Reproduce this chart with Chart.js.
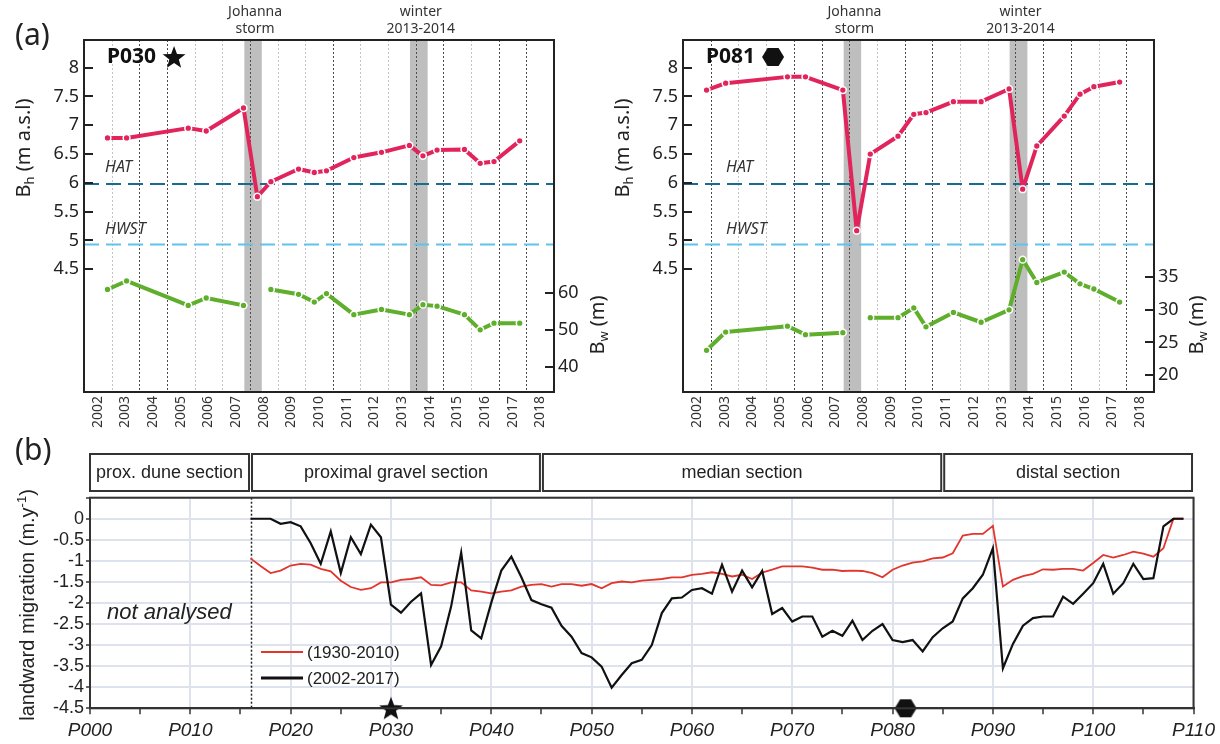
<!DOCTYPE html>
<html lang="en">
<head>
<meta charset="UTF-8">
<title>Barrier height, width and landward migration</title>
<script src="https://cdn.jsdelivr.net/npm/chart.js"></script>
<style>
    body { margin: 0; background: #fff; }
    .wrap { position: relative; width: 1220px; height: 744px; overflow: hidden; }
    canvas { position: absolute; }
    #chartP030 { left: 0; top: 0; }
    #chartP081 { left: 599px; top: 0; }
    #chartMigration { left: 0; top: 432px; }
</style>
</head>
<body>
<div class="wrap">
    <canvas id="chartP030" width="610" height="432"></canvas>
    <canvas id="chartP081" width="611" height="432"></canvas>
    <canvas id="chartMigration" width="1220" height="312"></canvas>
</div>
<script>
// ---- panel (a): survey dates (decimal years) and barrier height / width
const surveyDates = [2002.85, 2003.54, 2005.77, 2006.42, 2007.77, 2008.27, 2008.76, 2009.76, 2010.33, 2010.77,
                     2011.76, 2012.76, 2013.77, 2014.26, 2014.77, 2015.76, 2016.33, 2016.83, 2017.76];
const p030Height = [6.78, 6.78, 6.95, 6.90, 7.30, 5.76, 6.02, 6.24, 6.18, 6.21, 6.44, 6.53, 6.65, 6.47, 6.57, 6.58, 6.34, 6.37, 6.73];
const p030Width  = [60.9, 63.2, 56.6, 58.6, 56.6, null, 60.9, 59.6, 57.5, 59.8, 54.1, 55.5, 54.1, 56.8, 56.4, 54.1, 50.0, 51.8, 51.8];
const p081Height = [7.61, 7.73, 7.84, 7.84, 7.61, 5.17, 6.50, 6.81, 7.19, 7.22, 7.41, 7.41, 7.63, 5.89, 6.64, 7.16, 7.54, 7.67, 7.75];
const p081Width  = [23.8, 26.6, 27.5, 26.2, 26.5, null, 28.8, 28.8, 30.3, 27.4, 29.6, 28.1, 30.0, 37.7, 34.2, 35.8, 34.0, 33.2, 31.2];
const hatLevel = 5.98;
const hwstLevel = 4.93;
const eventBands = [[2007.80, 2008.43], [2013.79, 2014.43]];
const eventLabels = [['Johanna', 'storm'], ['winter', '2013-2014']];
const yearLabels = [2002, 2003, 2004, 2005, 2006, 2007, 2008, 2009, 2010, 2011, 2012, 2013, 2014, 2015, 2016, 2017, 2018];
const heightTicks = [4.5, 5, 5.5, 6, 6.5, 7, 7.5, 8];
const p030WidthTicks = [40, 50, 60];
const p081WidthTicks = [20, 25, 30, 35];
const p030DarkGrid = [2004, 2005, 2008, 2011, 2014, 2015, 2017, 2018];
const p081DarkGrid = [2003, 2006, 2007, 2008, 2010, 2011, 2014, 2015, 2016, 2018];

// ---- panel (b): landward migration per profile
const profiles = [16, 17, 18, 19, 20, 21, 22, 23, 24, 25, 26, 27, 28, 29, 30, 31, 32, 33, 34, 35,
                  36, 37, 38, 39, 40, 41, 42, 43, 44, 45, 46, 47, 48, 49, 50, 51, 52, 53, 54, 55,
                  56, 57, 58, 59, 60, 61, 62, 63, 64, 65, 66, 67, 68, 69, 70, 71, 72, 73, 74, 75,
                  76, 77, 78, 79, 80, 81, 82, 83, 84, 85, 86, 87, 88, 89, 90, 91, 92, 93, 94, 95,
                  96, 97, 98, 99, 100, 101, 102, 103, 104, 105, 106, 107, 108, 109];
const migration2002 = [0, 0, 0, -0.12, -0.08, -0.18, -0.58, -1.07, -0.30, -1.29,
                       -0.44, -0.84, -0.14, -0.44, -2.04, -2.23, -1.97, -1.77, -3.47, -3.03,
                       -2.08, -0.80, -2.65, -2.84, -1.99, -1.23, -0.90, -1.39, -1.93, -2.03,
                       -2.11, -2.54, -2.80, -3.19, -3.29, -3.51, -4.01, -3.71, -3.43, -3.35,
                       -3.00, -2.24, -1.89, -1.87, -1.69, -1.65, -1.78, -1.09, -1.73, -1.23,
                       -1.63, -1.24, -2.26, -2.12, -2.44, -2.32, -2.32, -2.80, -2.66, -2.78,
                       -2.42, -2.88, -2.66, -2.50, -2.88, -2.93, -2.88, -3.15, -2.81, -2.60,
                       -2.44, -1.89, -1.65, -1.33, -0.70, -3.55, -2.97, -2.54, -2.36, -2.32,
                       -2.32, -1.85, -2.02, -1.78, -1.53, -1.07, -1.78, -1.53, -1.07, -1.43,
                       -1.41, -0.18, 0, 0];
const migration1930 = [-0.94, -1.12, -1.29, -1.23, -1.11, -1.07, -1.09, -1.19, -1.25, -1.47,
                       -1.62, -1.69, -1.65, -1.51, -1.51, -1.45, -1.43, -1.39, -1.57, -1.58,
                       -1.51, -1.51, -1.70, -1.73, -1.77, -1.73, -1.70, -1.61, -1.57, -1.55,
                       -1.61, -1.55, -1.55, -1.59, -1.55, -1.65, -1.53, -1.49, -1.51, -1.47,
                       -1.45, -1.43, -1.39, -1.39, -1.33, -1.31, -1.27, -1.31, -1.37, -1.33,
                       -1.43, -1.28, -1.21, -1.13, -1.13, -1.13, -1.16, -1.21, -1.21, -1.24,
                       -1.23, -1.24, -1.29, -1.39, -1.21, -1.11, -1.04, -1.01, -0.94, -0.92,
                       -0.82, -0.40, -0.36, -0.36, -0.17, -1.61, -1.45, -1.36, -1.31, -1.20,
                       -1.21, -1.19, -1.19, -1.23, -1.05, -0.86, -0.92, -0.86, -0.78, -0.83,
                       -0.90, -0.70, 0, 0];
const sections = [['prox. dune section', 0, 16], ['proximal gravel section', 16, 45],
                  ['median section', 45, 85], ['distal section', 85, 110]];
const markedProfiles = [30, 81.3];

const RED = '#e2245d', GREEN = '#5fae2c';
const NOTO = "'Noto Sans', sans-serif";
const ARIAL = "'Liberation Sans', Arial, sans-serif";
Chart.defaults.font.family = NOTO;
Chart.defaults.color = '#222';

// shapes used for the profile markers
function starPath(g, cx, cy, R, r) {
    g.beginPath();
    for (let i = 0; i < 10; i++) {
        const ang = -Math.PI / 2 + i * Math.PI / 5, rad = i % 2 ? r : R;
        g.lineTo(cx + rad * Math.cos(ang), cy + rad * Math.sin(ang));
    }
    g.closePath();
}
function hexPath(g, cx, cy, R) {
    g.beginPath();
    for (let i = 0; i < 6; i++) {
        const ang = i * Math.PI / 3;
        g.lineTo(cx + R * Math.cos(ang), cy + R * 0.95 * Math.sin(ang));
    }
    g.closePath();
}
function shapeCanvas(size, draw) {
    const c = document.createElement('canvas');
    c.width = size; c.height = size;
    const g = c.getContext('2d');
    g.fillStyle = '#111';
    draw(g, size / 2);
    g.fill();
    return c;
}
const starImg = shapeCanvas(26, (g, m) => starPath(g, m, m + 1, 12.5, 5.2));
const hexImg = shapeCanvas(24, (g, m) => hexPath(g, m, m, 11));

// text with sub/superscript, rotated to read bottom to top
function rotatedLabel(ctx, cx, cy, parts, size, family) {
    ctx.save();
    ctx.translate(cx, cy);
    ctx.rotate(-Math.PI / 2);
    ctx.textBaseline = 'middle';
    ctx.textAlign = 'left';
    let total = 0;
    parts.forEach(p => {
        ctx.font = Math.round(size * (p.small ? 0.65 : 1)) + 'px ' + family;
        p.w = ctx.measureText(p.t).width;
        total += p.w;
    });
    let px = -total / 2;
    parts.forEach(p => {
        ctx.font = Math.round(size * (p.small ? 0.65 : 1)) + 'px ' + family;
        ctx.fillText(p.t, px, (p.dy || 0) * size);
        px += p.w;
    });
    ctx.restore();
}

const panelSettings = {
    chartP030: { title: 'P030', marker: 'star', darkGrid: p030DarkGrid, widthTicks: p030WidthTicks, refLabelX: 105, letter: '(a)' },
    chartP081: { title: 'P081', marker: 'hex', darkGrid: p081DarkGrid, widthTicks: p081WidthTicks, refLabelX: 127 }
};

const profilePanel = {
    id: 'profilePanel',
    beforeDatasetsDraw(chart) {
        const set = panelSettings[chart.canvas.id];
        const { ctx, chartArea: a, scales: { x } } = chart;
        ctx.save();
        ctx.fillStyle = '#bebebe';
        eventBands.forEach(b => {
            const x0 = x.getPixelForValue(b[0]), x1 = x.getPixelForValue(b[1]);
            ctx.fillRect(x0, a.top, x1 - x0, a.bottom - a.top);
        });
        ctx.lineWidth = 1;
        ctx.setLineDash([2, 2]);
        yearLabels.slice(1).forEach(yr => {
            const px = Math.round(x.getPixelForValue(yr)) + 0.5;
            ctx.strokeStyle = set.darkGrid.includes(yr) ? '#4d4d4d' : '#c4c4c4';
            ctx.beginPath();
            ctx.moveTo(px, a.top);
            ctx.lineTo(px, a.bottom);
            ctx.stroke();
        });
        ctx.restore();
    },
    afterDraw(chart) {
        const set = panelSettings[chart.canvas.id];
        const { ctx, chartArea: a, scales: { x, y, y2 } } = chart;
        ctx.save();
        ctx.strokeStyle = '#222';
        ctx.lineWidth = 2;
        ctx.strokeRect(a.left, a.top, a.right - a.left, a.bottom - a.top);
        // ticks point into the box on both sides
        ctx.beginPath();
        heightTicks.forEach(v => {
            const py = Math.round(y.getPixelForValue(v));
            ctx.moveTo(a.left, py); ctx.lineTo(a.left + 9, py);
        });
        set.widthTicks.forEach(v => {
            const py = Math.round(y2.getPixelForValue(v));
            ctx.moveTo(a.right - 9, py); ctx.lineTo(a.right, py);
        });
        ctx.stroke();

        ctx.fillStyle = '#333';
        ctx.textAlign = 'center';
        ctx.textBaseline = 'middle';
        ctx.font = '14px ' + NOTO;
        eventBands.forEach((b, i) => {
            const cx = x.getPixelForValue((b[0] + b[1]) / 2) + 2;
            ctx.fillText(eventLabels[i][0], cx, 12);
            ctx.fillText(eventLabels[i][1], cx, 29);
        });

        ctx.textAlign = 'left';
        ctx.font = 'italic 16px ' + NOTO;
        ctx.fillText('HAT', set.refLabelX, y.getPixelForValue(hatLevel) - 17);
        ctx.fillText('HWST', set.refLabelX, y.getPixelForValue(hwstLevel) - 15);

        ctx.fillStyle = '#111';
        ctx.font = 'bold 21px ' + NOTO;
        ctx.fillText(set.title, 107, 57);
        const mx = 107 + ctx.measureText(set.title).width + 18;
        if (set.marker === 'star') starPath(ctx, mx, 58, 12, 5); else hexPath(ctx, mx, 57, 11);
        ctx.fill();

        if (set.letter) {
            ctx.fillStyle = '#222';
            ctx.font = '30px ' + NOTO;
            ctx.fillText(set.letter, 15, 36);
        }
        ctx.fillStyle = '#222';
        rotatedLabel(ctx, 24, 148, [{ t: 'B' }, { t: 'h', small: true, dy: 0.32 }, { t: ' (m a.s.l)' }], 20, NOTO);
        rotatedLabel(ctx, 598, 325, [{ t: 'B' }, { t: 'w', small: true, dy: 0.32 }, { t: ' (m)' }], 20, NOTO);
        ctx.restore();
    }
};

function profileChart(id, heights, widths, wMin, wMax) {
    const set = panelSettings[id];
    const series = vals => surveyDates.map((d, i) => ({ x: d, y: vals[i] }));
    const pointStyle = color => ({
        borderColor: color, backgroundColor: color, pointBackgroundColor: color,
        borderWidth: 4, borderJoinStyle: 'round', pointRadius: 3.4,
        pointBorderColor: '#fff', pointBorderWidth: 1.5, spanGaps: false
    });
    return new Chart(document.getElementById(id), {
        type: 'line',
        data: {
            datasets: [
                Object.assign({ label: 'Bh', data: series(heights), yAxisID: 'y' }, pointStyle(RED)),
                Object.assign({ label: 'Bw', data: series(widths), yAxisID: 'y2' }, pointStyle(GREEN)),
                { label: 'HAT', data: [{ x: 2002, y: hatLevel }, { x: 2019, y: hatLevel }], yAxisID: 'y',
                  borderColor: '#1b6b91', borderWidth: 2, borderDash: [15, 7], pointRadius: 0 },
                { label: 'HWST', data: [{ x: 2002, y: hwstLevel }, { x: 2019, y: hwstLevel }], yAxisID: 'y',
                  borderColor: '#5ec4ec', borderWidth: 2, borderDash: [15, 7], pointRadius: 0 }
            ]
        },
        options: {
            responsive: false,
            animation: false,
            devicePixelRatio: 1,
            layout: { padding: { top: 40, left: 0, right: 0, bottom: 0 } },
            plugins: { legend: { display: false }, tooltip: { enabled: false } },
            scales: {
                x: {
                    type: 'linear', min: 2002, max: 2019,
                    afterFit: s => { s.height = 40; },
                    afterBuildTicks: s => { s.ticks = yearLabels.map(v => ({ value: v + 0.5 })); },
                    ticks: { autoSkip: false, minRotation: 90, maxRotation: 90, padding: 4,
                             font: { size: 14 }, color: '#333', callback: v => String(Math.floor(v)) },
                    grid: { display: false, drawTicks: false },
                    border: { display: false }
                },
                y: {
                    min: 2.37, max: 8.48,
                    afterFit: s => { s.width = 84; },
                    afterBuildTicks: s => { s.ticks = heightTicks.map(v => ({ value: v })); },
                    ticks: { autoSkip: false, padding: 5, font: { size: 18 }, color: '#222', callback: v => String(v) },
                    grid: { display: false, drawTicks: false },
                    border: { display: false }
                },
                y2: {
                    position: 'right', min: wMin, max: wMax,
                    afterFit: s => { s.width = 56; },
                    afterBuildTicks: s => { s.ticks = set.widthTicks.map(v => ({ value: v })); },
                    ticks: { autoSkip: false, padding: 4, font: { size: 18 }, color: '#222', callback: v => String(v) },
                    grid: { display: false, drawTicks: false },
                    border: { display: false }
                }
            }
        },
        plugins: [profilePanel]
    });
}

profileChart('chartP030', p030Height, p030Width, 33.2, 128.3);
profileChart('chartP081', p081Height, p081Width, 17.4, 71.4);

// ---- panel (b)
const migrationPanel = {
    id: 'migrationPanel',
    beforeDatasetsDraw(chart) {
        const { ctx, chartArea: a, scales: { x } } = chart;
        const px = Math.round(x.getPixelForValue(profiles[0])) + 0.5;
        ctx.save();
        ctx.setLineDash([2, 2]);
        ctx.strokeStyle = '#222';
        ctx.lineWidth = 1.5;
        ctx.beginPath();
        ctx.moveTo(px, a.top);
        ctx.lineTo(px, a.bottom);
        ctx.stroke();
        ctx.restore();
    },
    afterDraw(chart) {
        const { ctx, chartArea: a, scales: { x } } = chart;
        ctx.save();
        ctx.strokeStyle = '#333';
        ctx.lineWidth = 2;
        ctx.strokeRect(a.left, a.top, a.right - a.left, a.bottom - a.top);

        // section boxes above the plot
        ctx.fillStyle = '#222';
        ctx.font = '18px ' + ARIAL;
        ctx.textAlign = 'center';
        ctx.textBaseline = 'middle';
        sections.forEach(([name, p0, p1]) => {
            const x0 = x.getPixelForValue(p0) + (p0 > 0 ? 1.5 : 0);
            const x1 = x.getPixelForValue(p1) - 1.5;
            ctx.strokeRect(x0, 22, x1 - x0, 37);
            ctx.fillText(name, (x0 + x1) / 2, 41);
        });

        ctx.textAlign = 'left';
        ctx.font = '30px ' + NOTO;
        ctx.fillText('(b)', 15, 19);

        ctx.font = 'italic 22px ' + ARIAL;
        ctx.fillText('not analysed', 107, 181);

        // legend
        const items = [chart.data.datasets[1], chart.data.datasets[0]];
        ctx.font = '17px ' + ARIAL;
        items.forEach((ds, i) => {
            const ly = 220 + i * 26;
            ctx.strokeStyle = ds.borderColor;
            ctx.lineWidth = ds.borderWidth + (i ? 0.8 : 0);
            ctx.beginPath();
            ctx.moveTo(261, ly);
            ctx.lineTo(303, ly);
            ctx.stroke();
            ctx.fillStyle = '#222';
            ctx.fillText(ds.label, 307, ly + 1);
        });

        ctx.fillStyle = '#222';
        rotatedLabel(ctx, 28, 173, [{ t: 'landward migration (m.y' }, { t: '-1', small: true, dy: -0.3 }, { t: ')' }], 20, ARIAL);
        ctx.restore();
    }
};

new Chart(document.getElementById('chartMigration'), {
    type: 'line',
    data: {
        datasets: [
            { label: '(2002-2017)', data: profiles.map((p, i) => ({ x: p, y: migration2002[i] })),
              borderColor: '#111', borderWidth: 2.2, pointRadius: 0 },
            { label: '(1930-2010)', data: profiles.map((p, i) => ({ x: p, y: migration1930[i] })),
              borderColor: '#e2352c', borderWidth: 1.8, pointRadius: 0 },
            { label: 'profiles', data: markedProfiles.map(p => ({ x: p, y: -4.5 })), showLine: false,
              pointStyle: [starImg, hexImg], pointRadius: 11, clip: false }
        ]
    },
    options: {
        responsive: false,
        animation: false,
        devicePixelRatio: 1,
        layout: { padding: { top: 65.7, right: 22.3, left: 0, bottom: 0 } },
        plugins: { legend: { display: false }, tooltip: { enabled: false } },
        scales: {
            x: {
                type: 'linear', min: 0, max: 110,
                afterFit: s => { s.height = 35.7; },
                ticks: { stepSize: 5, autoSkip: false, maxRotation: 0, padding: 5,
                         font: { size: 19, style: 'italic', family: ARIAL }, color: '#222',
                         callback: v => v % 10 === 0 ? 'P' + String(v).padStart(3, '0') : '' },
                grid: { color: c => (c.tick && c.tick.value % 10 === 0) ? '#dde2ec' : 'rgba(0,0,0,0)',
                        lineWidth: 2, tickColor: '#333', tickLength: 6, tickWidth: 1.5 },
                border: { display: true, color: '#333', width: 2 }
            },
            y: {
                min: -4.5, max: 0.5,
                afterFit: s => { s.width = 90; },
                ticks: { stepSize: 0.5, autoSkip: false, padding: 2, font: { size: 18, family: ARIAL }, color: '#222',
                         callback: v => v > 0 ? '' : String(Math.round(v * 10) / 10) },
                grid: { color: '#dde2ec', lineWidth: 2, tickColor: '#333', tickLength: 4, tickWidth: 1.5 },
                border: { display: true, color: '#333', width: 2 }
            }
        }
    },
    plugins: [migrationPanel]
});
</script>
</body>
</html>
